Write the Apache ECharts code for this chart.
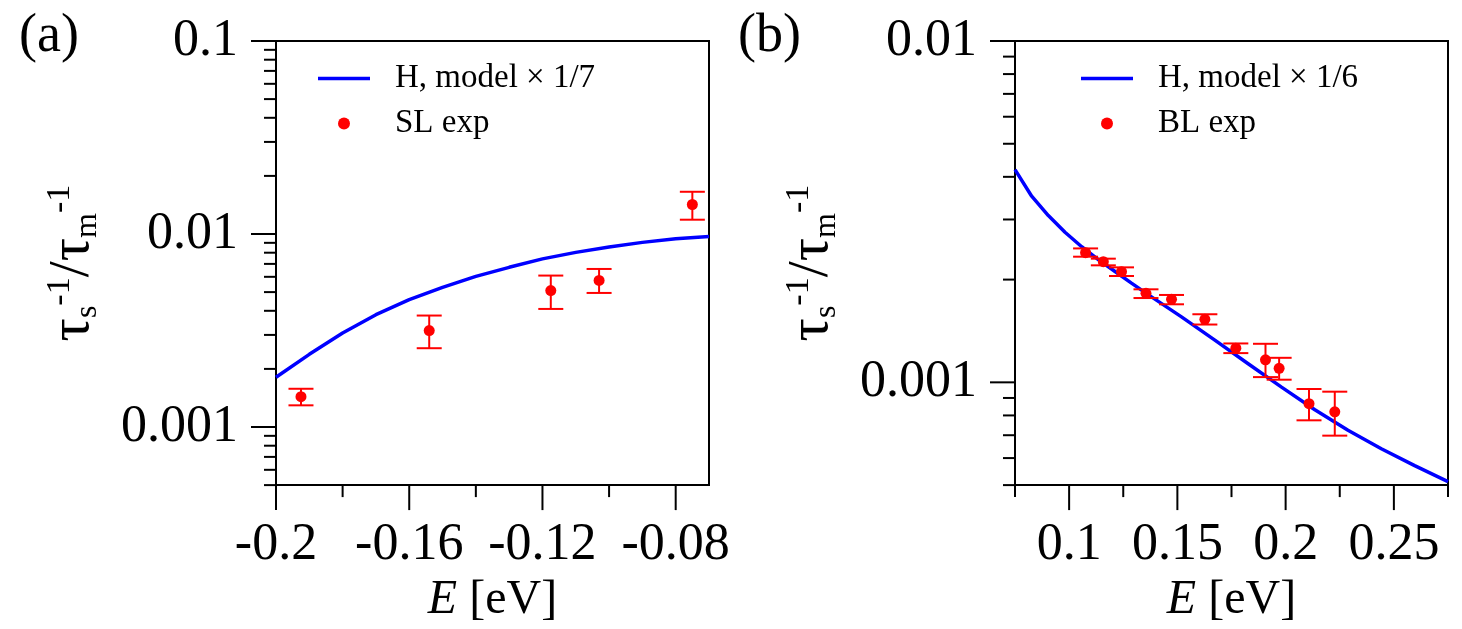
<!DOCTYPE html>
<html>
<head>
<meta charset="utf-8">
<script src="https://cdn.jsdelivr.net/npm/echarts@6/dist/echarts.min.js"></script>
<style>
html,body{margin:0;padding:0;background:#fff;}
#chart{width:1462px;height:629px;}
</style>
</head>
<body>
<div id="chart"></div>
<script>
// ---------- Panel (a) data ----------
const aModelName = 'H, model \u00d7 1/7';
const aExpName = 'SL exp';
const aModelE = [-0.2, -0.19, -0.18, -0.17, -0.16, -0.15, -0.14, -0.13, -0.12, -0.11, -0.10, -0.09, -0.08, -0.07];
const aModelRate = [0.00181, 0.00238, 0.00307, 0.00382, 0.00457, 0.00529, 0.00603, 0.00672, 0.00743, 0.00803, 0.00857, 0.00905, 0.00946, 0.00972];
const aExpE = [-0.1925, -0.154, -0.1175, -0.103, -0.075];
const aExpRate = [0.001435, 0.00316, 0.00509, 0.00575, 0.01422];
const aExpLow = [0.001295, 0.00256, 0.00409, 0.00495, 0.01186];
const aExpHigh = [0.001578, 0.00378, 0.00609, 0.00659, 0.01655];

// ---------- Panel (b) data ----------
const bModelName = 'H, model \u00d7 1/6';
const bExpName = 'BL exp';
const bModelE = [0.075, 0.0827, 0.0904, 0.0981, 0.1058, 0.1135, 0.1212, 0.1288, 0.1365, 0.1519, 0.1673, 0.1827, 0.1981, 0.2135, 0.2288, 0.2442, 0.2596, 0.275];
const bModelRate = [0.00420, 0.00351, 0.00308, 0.002753, 0.002496, 0.00229, 0.002112, 0.001953, 0.001807, 0.001555, 0.001329, 0.001134, 0.000968, 0.000831, 0.000724, 0.000639, 0.000570, 0.000512];
const bExpE = [0.1076, 0.1158, 0.1242, 0.1355, 0.1473, 0.1627, 0.1770, 0.1907, 0.1970, 0.2108, 0.2227];
const bExpRate = [0.002398, 0.002257, 0.002110, 0.001823, 0.001751, 0.001530, 0.001259, 0.001164, 0.001099, 0.000866, 0.000820];
const bExpLow = [0.002334, 0.002202, 0.002049, 0.001766, 0.001693, 0.001477, 0.001218, 0.001036, 0.001018, 0.000774, 0.000698];
const bExpHigh = [0.002468, 0.002303, 0.002172, 0.001873, 0.001803, 0.001583, 0.001300, 0.001297, 0.001180, 0.000956, 0.000939];

// ---------- Axes / ticks ----------
const aXRange = [-0.2, -0.07];
const aYRange = [0.0005, 0.1];
const aXTickValues = [-0.2, -0.16, -0.12, -0.08];
const aXTickLabels = ['-0.2', '-0.16', '-0.12', '-0.08'];
const aXMinorTicks = [-0.18, -0.14, -0.10];
const aYTickValues = [0.001, 0.01, 0.1];
const aYTickLabels = ['0.001', '0.01', '0.1'];
const aYMinorTicks = [0.0005, 0.0006, 0.0007, 0.0008, 0.0009, 0.002, 0.003, 0.004, 0.005, 0.006, 0.007, 0.008, 0.009, 0.02, 0.03, 0.04, 0.05, 0.06, 0.07, 0.08, 0.09];

const bXRange = [0.075, 0.275];
const bYRange = [0.0005, 0.01];
const bXTickValues = [0.1, 0.15, 0.2, 0.25];
const bXTickLabels = ['0.1', '0.15', '0.2', '0.25'];
const bXMinorTicks = [0.075, 0.125, 0.175, 0.225, 0.275];
const bYTickValues = [0.001, 0.01];
const bYTickLabels = ['0.001', '0.01'];
const bYMinorTicks = [0.0005, 0.0006, 0.0007, 0.0008, 0.0009, 0.002, 0.003, 0.004, 0.005, 0.006, 0.007, 0.008, 0.009];

const panelLabels = ['(a)', '(b)'];
const xTitle = '{i|E} [eV]';
const yTitle = '{t|\u03c4}{sub|s}{sup|-1}{t|/\u03c4}{sub|m}{sup|-1}';

// ---------- helpers ----------
const SERIF = '"Liberation Serif", "Times New Roman", serif';
const zip = (a, b) => a.map((v, i) => [v, b[i]]);
function linLabel(values, labels) {
  return v => { const i = values.findIndex(t => Math.abs(t - v) < 1e-9); return i >= 0 ? labels[i] : ''; };
}
function logLabel(values, labels) {
  return v => { const i = values.findIndex(t => Math.abs(Math.log10(t) - Math.log10(v)) < 1e-6); return i >= 0 ? labels[i] : ''; };
}
const MAJOR = 25, MINOR = 12;
function yTickSeries(gi, xMin, values, len) {
  return {
    type: 'custom', xAxisIndex: gi, yAxisIndex: gi, clip: false, silent: true, z: 5,
    data: values.map(v => [xMin, v]),
    renderItem: (params, api) => {
      const cs = params.coordSys;
      const y = api.coord([api.value(0), api.value(1)])[1];
      return { type: 'line', shape: { x1: cs.x - len, y1: y, x2: cs.x, y2: y }, style: { stroke: '#000', lineWidth: 2 } };
    }
  };
}
function xTickSeries(gi, yMin, values, len) {
  return {
    type: 'custom', xAxisIndex: gi, yAxisIndex: gi, clip: false, silent: true, z: 5,
    data: values.map(v => [v, yMin]),
    renderItem: (params, api) => {
      const cs = params.coordSys;
      const x = api.coord([api.value(0), api.value(1)])[0];
      const yb = cs.y + cs.height;
      return { type: 'line', shape: { x1: x, y1: yb, x2: x, y2: yb + len }, style: { stroke: '#000', lineWidth: 2 } };
    }
  };
}
function errSeries(gi, xs, lo, hi) {
  return {
    type: 'custom', xAxisIndex: gi, yAxisIndex: gi, silent: true, z: 6,
    encode: { x: 0, y: [1, 2] },
    data: xs.map((x, i) => [x, lo[i], hi[i]]),
    renderItem: (params, api) => {
      const pl = api.coord([api.value(0), api.value(1)]);
      const ph = api.coord([api.value(0), api.value(2)]);
      const w = 12.5;
      const st = { stroke: '#ff0000', lineWidth: 2 };
      return { type: 'group', children: [
        { type: 'line', shape: { x1: pl[0], y1: pl[1], x2: ph[0], y2: ph[1] }, style: st },
        { type: 'line', shape: { x1: pl[0] - w, y1: pl[1], x2: pl[0] + w, y2: pl[1] }, style: st },
        { type: 'line', shape: { x1: ph[0] - w, y1: ph[1], x2: ph[0] + w, y2: ph[1] }, style: st }
      ]};
    }
  };
}
const yName = {
  name: yTitle, nameLocation: 'middle', nameRotate: 90, nameGap: 150,
  nameTextStyle: {
    color: '#000',
    rich: {
      t: { fontFamily: SERIF, fontSize: 58, lineHeight: 60, color: '#000' },
      sub: { fontFamily: SERIF, fontSize: 32, lineHeight: 32, padding: [48, 0, 0, 0], verticalAlign: 'bottom', color: '#000' },
      sup: { fontFamily: SERIF, fontSize: 34, lineHeight: 34, padding: [0, 0, 40, 0], verticalAlign: 'top', color: '#000' }
    }
  }
};
const xName = {
  name: xTitle, nameLocation: 'middle', nameGap: 78,
  nameTextStyle: {
    fontFamily: SERIF, fontSize: 48, color: '#000',
    rich: { i: { fontFamily: SERIF, fontSize: 48, fontStyle: 'italic', color: '#000' } }
  }
};
const labelStyle = { fontFamily: SERIF, fontSize: 52, color: '#000' };
const lineIcon = 'path://M0,0H52V3.5H0Z';
function legendFor(left, names) {
  return {
    orient: 'vertical', left: left, top: 57, padding: 5, itemWidth: 52, itemHeight: 12, itemGap: 12, selectedMode: false,
    data: [{ name: names[0], icon: lineIcon }, { name: names[1], icon: 'circle' }],
    textStyle: { fontFamily: SERIF, fontSize: 33, lineHeight: 32, color: '#000', padding: [0, 0, 0, 20] }
  };
}

const option = {
  animation: false,
  backgroundColor: '#fff',
  title: [
    { text: panelLabels[0], left: 19, top: 10, padding: 0, textStyle: { fontFamily: SERIF, fontSize: 54, fontWeight: 'normal', color: '#000' } },
    { text: panelLabels[1], left: 738, top: 10, padding: 0, textStyle: { fontFamily: SERIF, fontSize: 54, fontWeight: 'normal', color: '#000' } }
  ],
  legend: [legendFor(313, [aModelName, aExpName]), legendFor(1076, [bModelName, bExpName])],
  grid: [
    { left: 276, top: 41, width: 433, height: 446, show: true, borderColor: '#000', borderWidth: 2, backgroundColor: 'transparent' },
    { left: 1015, top: 41, width: 433, height: 446, show: true, borderColor: '#000', borderWidth: 2, backgroundColor: 'transparent' }
  ],
  xAxis: [
    Object.assign({ type: 'value', gridIndex: 0, min: aXRange[0], max: aXRange[1], interval: 0.04,
      axisLine: { show: false }, axisTick: { show: false }, splitLine: { show: false },
      axisLabel: Object.assign({ margin: 34, showMaxLabel: false, formatter: linLabel(aXTickValues, aXTickLabels) }, labelStyle) }, xName),
    Object.assign({ type: 'value', gridIndex: 1, min: bXRange[0], max: bXRange[1], interval: 0.025,
      axisLine: { show: false }, axisTick: { show: false }, splitLine: { show: false },
      axisLabel: Object.assign({ margin: 34, formatter: linLabel(bXTickValues, bXTickLabels) }, labelStyle) }, xName)
  ],
  yAxis: [
    Object.assign({ type: 'log', logBase: 10, gridIndex: 0, min: aYRange[0], max: aYRange[1],
      axisLine: { show: false }, axisTick: { show: false }, splitLine: { show: false }, minorTick: { show: false },
      axisLabel: Object.assign({ margin: 38, showMinLabel: false, formatter: logLabel(aYTickValues, aYTickLabels) }, labelStyle) }, yName),
    Object.assign({ type: 'log', logBase: 10, gridIndex: 1, min: bYRange[0], max: bYRange[1],
      axisLine: { show: false }, axisTick: { show: false }, splitLine: { show: false }, minorTick: { show: false },
      axisLabel: Object.assign({ margin: 38, showMinLabel: false, formatter: logLabel(bYTickValues, bYTickLabels) }, labelStyle) }, yName)
  ],
  series: [
    { name: aModelName, type: 'line', xAxisIndex: 0, yAxisIndex: 0, data: zip(aModelE, aModelRate), smooth: false,
      showSymbol: false, symbol: 'none', lineStyle: { color: '#0000ff', width: 3.5 }, itemStyle: { color: '#0000ff' }, z: 3 },
    errSeries(0, aExpE, aExpLow, aExpHigh),
    { name: aExpName, type: 'scatter', xAxisIndex: 0, yAxisIndex: 0, data: zip(aExpE, aExpRate), symbol: 'circle', symbolSize: 11,
      itemStyle: { color: '#ff0000', opacity: 1 }, z: 7 },
    { name: bModelName, type: 'line', xAxisIndex: 1, yAxisIndex: 1, data: zip(bModelE, bModelRate), smooth: false,
      showSymbol: false, symbol: 'none', lineStyle: { color: '#0000ff', width: 3.5 }, itemStyle: { color: '#0000ff' }, z: 3 },
    errSeries(1, bExpE, bExpLow, bExpHigh),
    { name: bExpName, type: 'scatter', xAxisIndex: 1, yAxisIndex: 1, data: zip(bExpE, bExpRate), symbol: 'circle', symbolSize: 11,
      itemStyle: { color: '#ff0000', opacity: 1 }, z: 7 },
    yTickSeries(0, aXRange[0], aYTickValues, MAJOR),
    yTickSeries(0, aXRange[0], aYMinorTicks, MINOR),
    xTickSeries(0, aYRange[0], aXTickValues, MAJOR),
    xTickSeries(0, aYRange[0], aXMinorTicks, MINOR),
    yTickSeries(1, bXRange[0], bYTickValues, MAJOR),
    yTickSeries(1, bXRange[0], bYMinorTicks, MINOR),
    xTickSeries(1, bYRange[0], bXTickValues, MAJOR),
    xTickSeries(1, bYRange[0], bXMinorTicks, MINOR)
  ]
};
const chart = echarts.init(document.getElementById('chart'), null, { renderer: 'canvas' });
chart.setOption(option);
</script>
</body>
</html>
